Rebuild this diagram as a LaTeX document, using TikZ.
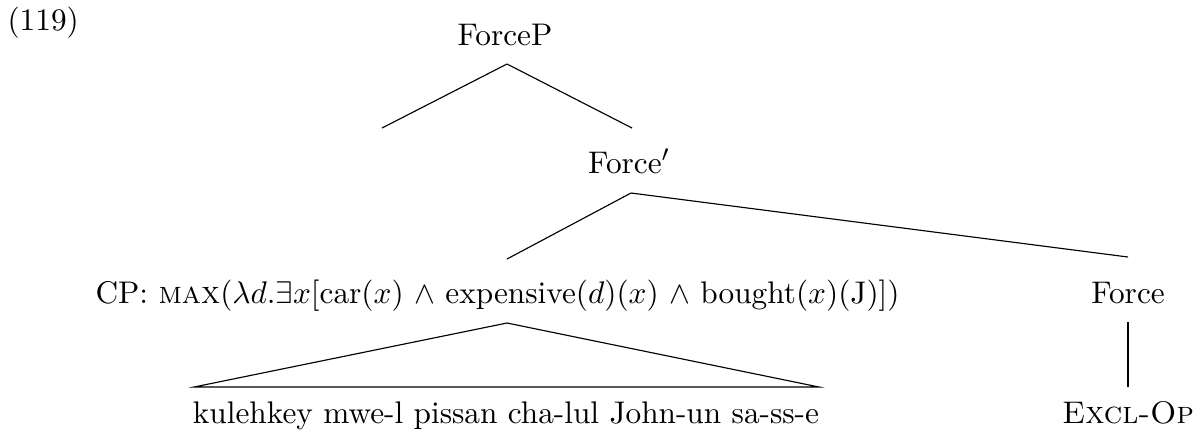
\documentclass[tikz,border=0pt]{standalone}
\begin{document}
\begin{tikzpicture}[x=0.35pt, y=-0.35pt]
    \tikzset{lab/.style={anchor=base, inner sep=0pt, font=\fontsize{10.95}{13.6}\selectfont}}
    % Frame, in pixel units of the page
    \useasboundingbox (0, 0) rectangle (1204, 441);
    
    % Example number
    \node[lab, anchor=base west] (exnum) at (7, 30) {(119)};
    
    % Labels of the tree
    \node[lab] (forcep) at (505, 45) {ForceP};
    \node[lab] (forcebar) at (629, 173) {Force$'$};
    \node[lab, anchor=base west] (cp) at (95, 303)
        {CP: \textsc{max}($\lambda d.\exists x$[car($x$) $\wedge$ expensive($d$)($x$) $\wedge$ bought($x$)(J)])};
    \node[lab] (force) at (1128, 303) {Force};
    \node[lab] (words) at (506, 423) {kulehkey mwe-l pissan cha-lul John-un sa-ss-e};
    \node[lab] (exclop) at (1128, 423) {\textsc{Excl-Op}};
    
    % Points where the branches meet the labels
    \coordinate (forcep-b) at (507, 64);
    \coordinate (empty) at (382, 128);
    \coordinate (forcebar-t) at (632, 128);
    \coordinate (forcebar-b) at (631, 193);
    \coordinate (cp-t) at (507, 259);
    \coordinate (cp-b) at (507, 323);
    \coordinate (force-t) at (1128, 257);
    \coordinate (force-b) at (1128, 322);
    \coordinate (words-l) at (194, 387);
    \coordinate (words-r) at (819, 387);
    \coordinate (exclop-t) at (1128, 387);
    
    % Branches
    \draw (forcep-b) -- (empty);
    \draw (forcep-b) -- (forcebar-t);
    \draw (forcebar-b) -- (cp-t);
    \draw (forcebar-b) -- (force-t);
    \draw (force-b) -- (exclop-t);
    
    % Triangle over the string
    \draw (cp-b) -- (words-l) -- (words-r) -- cycle;
\end{tikzpicture}
\end{document}
